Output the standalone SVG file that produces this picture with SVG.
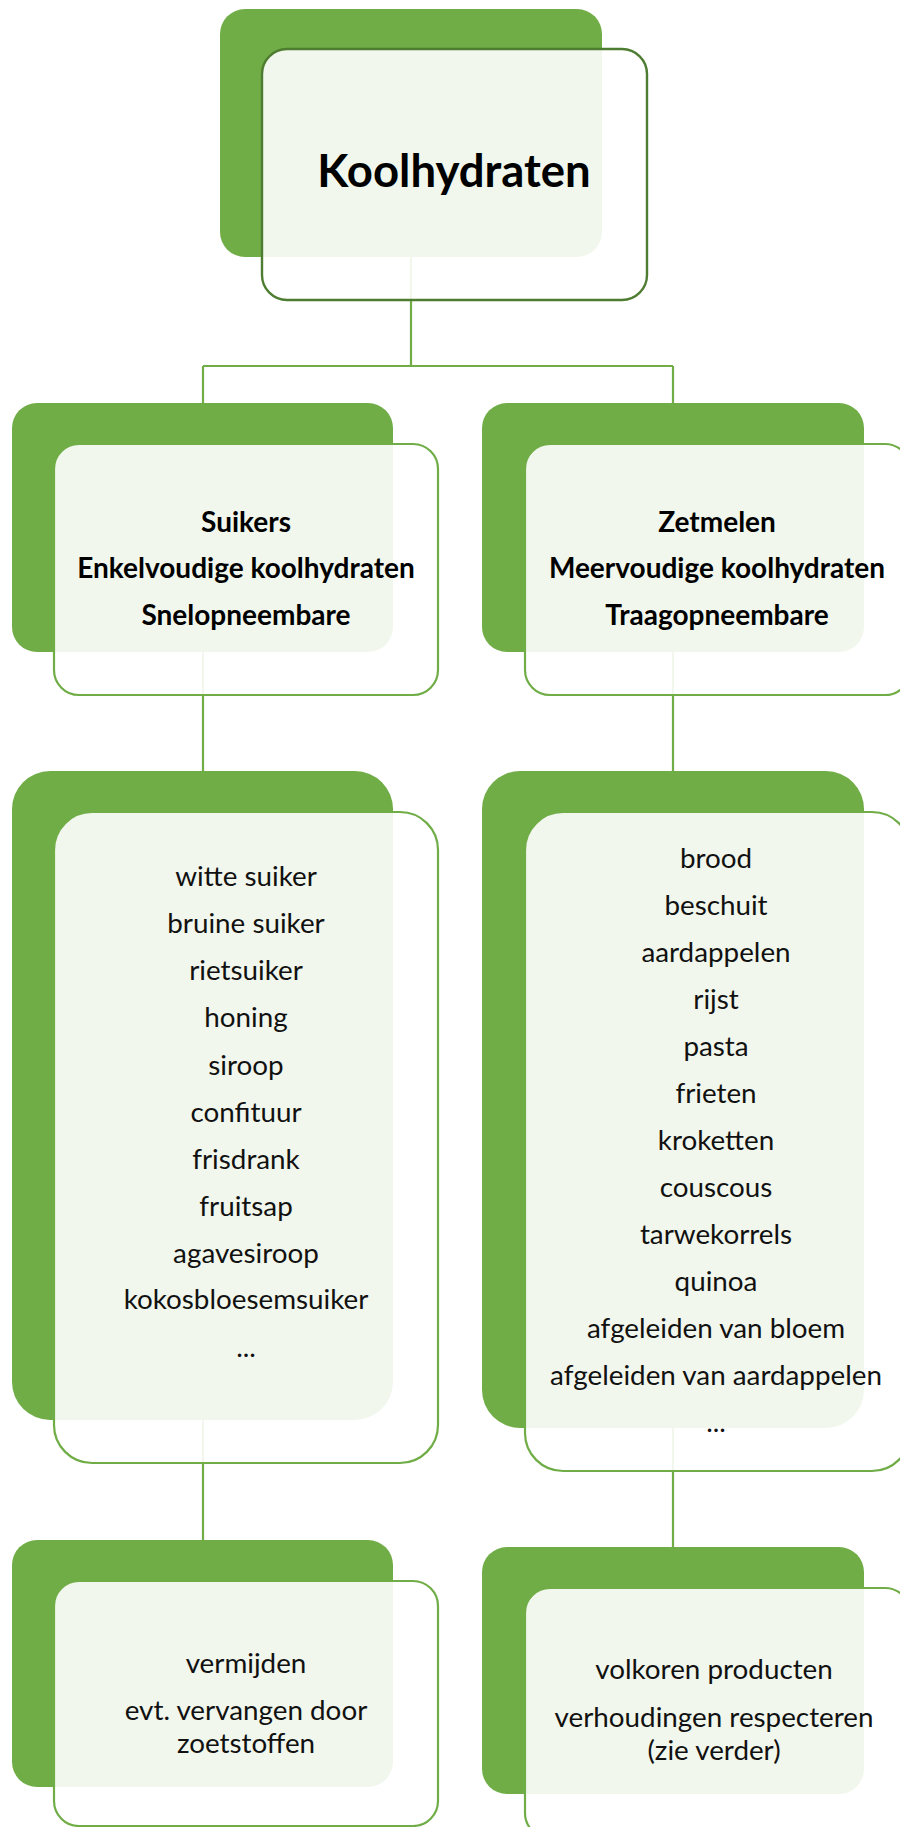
<svg xmlns="http://www.w3.org/2000/svg" width="900" height="1827" viewBox="0 0 900 1827">
  <style>
    .back { fill: #70ad47; }
    .front { fill: #ffffff; fill-opacity: 0.9; stroke: #70ad47; stroke-width: 2.2; }
    .front-root { fill: #ffffff; fill-opacity: 0.9; stroke: #4e7d31; stroke-width: 2.4; }
    .conn { fill: none; stroke: #70ad47; stroke-width: 2.2; }
    .title { font-family: Lato, "Open Sans", sans-serif; font-weight: 700; font-size: 45.5px; fill: #000; text-anchor: middle; }
    .head { font-family: Lato, "Open Sans", sans-serif; font-weight: 700; font-size: 28px; fill: #000; text-anchor: middle; }
    .item { font-family: Lato, "Open Sans", sans-serif; font-weight: 400; font-size: 27.8px; fill: #111; text-anchor: middle; }
  </style>

  <rect width="900" height="1827" fill="#ffffff"/>

  <!-- connectors (drawn beneath the translucent front cards) -->
  <g id="connectors">
    <path class="conn" d="M411 257 V366 M203 366 H673 M203 366 V403 M673 366 V403"/>
    <path class="conn" d="M203 652 V771"/>
    <path class="conn" d="M673 652 V771"/>
    <path class="conn" d="M203 1420 V1540"/>
    <path class="conn" d="M673 1428 V1547"/>
  </g>

  <!-- root -->
  <g id="node-koolhydraten">
    <rect class="back" x="220" y="9" width="382" height="248" rx="25"/>
    <rect class="front-root" x="262" y="49" width="385" height="251" rx="25"/>
    <text class="title" x="454" y="187">Koolhydraten</text>
  </g>

  <!-- second level -->
  <g id="node-suikers">
    <rect class="back" x="12" y="403" width="381" height="249" rx="25"/>
    <rect class="front" x="54" y="444" width="384" height="251" rx="25"/>
    <text class="head" x="246" y="532">Suikers</text>
    <text class="head" x="246" y="578">Enkelvoudige koolhydraten</text>
    <text class="head" x="246" y="625">Snelopneembare</text>
  </g>

  <g id="node-zetmelen">
    <rect class="back" x="482" y="403" width="382" height="249" rx="25"/>
    <rect class="front" x="525" y="444" width="385" height="251" rx="25"/>
    <text class="head" x="717" y="532">Zetmelen</text>
    <text class="head" x="717" y="578">Meervoudige koolhydraten</text>
    <text class="head" x="717" y="625">Traagopneembare</text>
  </g>

  <!-- third level: examples -->
  <g id="node-suikers-voorbeelden">
    <rect class="back" x="12" y="771" width="381" height="649" rx="38"/>
    <rect class="front" x="54" y="812" width="384" height="651" rx="38"/>
    <text class="item" x="246" y="886">witte suiker</text>
    <text class="item" x="246" y="933">bruine suiker</text>
    <text class="item" x="246" y="980">rietsuiker</text>
    <text class="item" x="246" y="1027">honing</text>
    <text class="item" x="246" y="1075">siroop</text>
    <text class="item" x="246" y="1122">confituur</text>
    <text class="item" x="246" y="1169">frisdrank</text>
    <text class="item" x="246" y="1216">fruitsap</text>
    <text class="item" x="246" y="1263">agavesiroop</text>
    <text class="item" x="246" y="1309">kokosbloesemsuiker</text>
    <text class="item" x="246" y="1357">...</text>
  </g>

  <g id="node-zetmelen-voorbeelden">
    <rect class="back" x="482" y="771" width="382" height="657" rx="38"/>
    <rect class="front" x="525" y="812" width="385" height="659" rx="38"/>
    <text class="item" x="716" y="868">brood</text>
    <text class="item" x="716" y="915">beschuit</text>
    <text class="item" x="716" y="962">aardappelen</text>
    <text class="item" x="716" y="1009">rijst</text>
    <text class="item" x="716" y="1056">pasta</text>
    <text class="item" x="716" y="1103">frieten</text>
    <text class="item" x="716" y="1150">kroketten</text>
    <text class="item" x="716" y="1197">couscous</text>
    <text class="item" x="716" y="1244">tarwekorrels</text>
    <text class="item" x="716" y="1291">quinoa</text>
    <text class="item" x="716" y="1338">afgeleiden van bloem</text>
    <text class="item" x="716" y="1385">afgeleiden van aardappelen</text>
    <text class="item" x="716" y="1432">...</text>
  </g>

  <!-- fourth level: advice -->
  <g id="node-suikers-advies">
    <rect class="back" x="12" y="1540" width="381" height="247" rx="25"/>
    <rect class="front" x="54" y="1581" width="384" height="245" rx="25"/>
    <text class="item" x="246" y="1673">vermijden</text>
    <text class="item" x="246" y="1720">evt. vervangen door</text>
    <text class="item" x="246" y="1753">zoetstoffen</text>
  </g>

  <g id="node-zetmelen-advies">
    <rect class="back" x="482" y="1547" width="382" height="247" rx="25"/>
    <rect class="front" x="525" y="1588" width="385" height="250" rx="25"/>
    <text class="item" x="714" y="1679">volkoren producten</text>
    <text class="item" x="714" y="1727">verhoudingen respecteren</text>
    <text class="item" x="714" y="1760">(zie verder)</text>
  </g>
</svg>
